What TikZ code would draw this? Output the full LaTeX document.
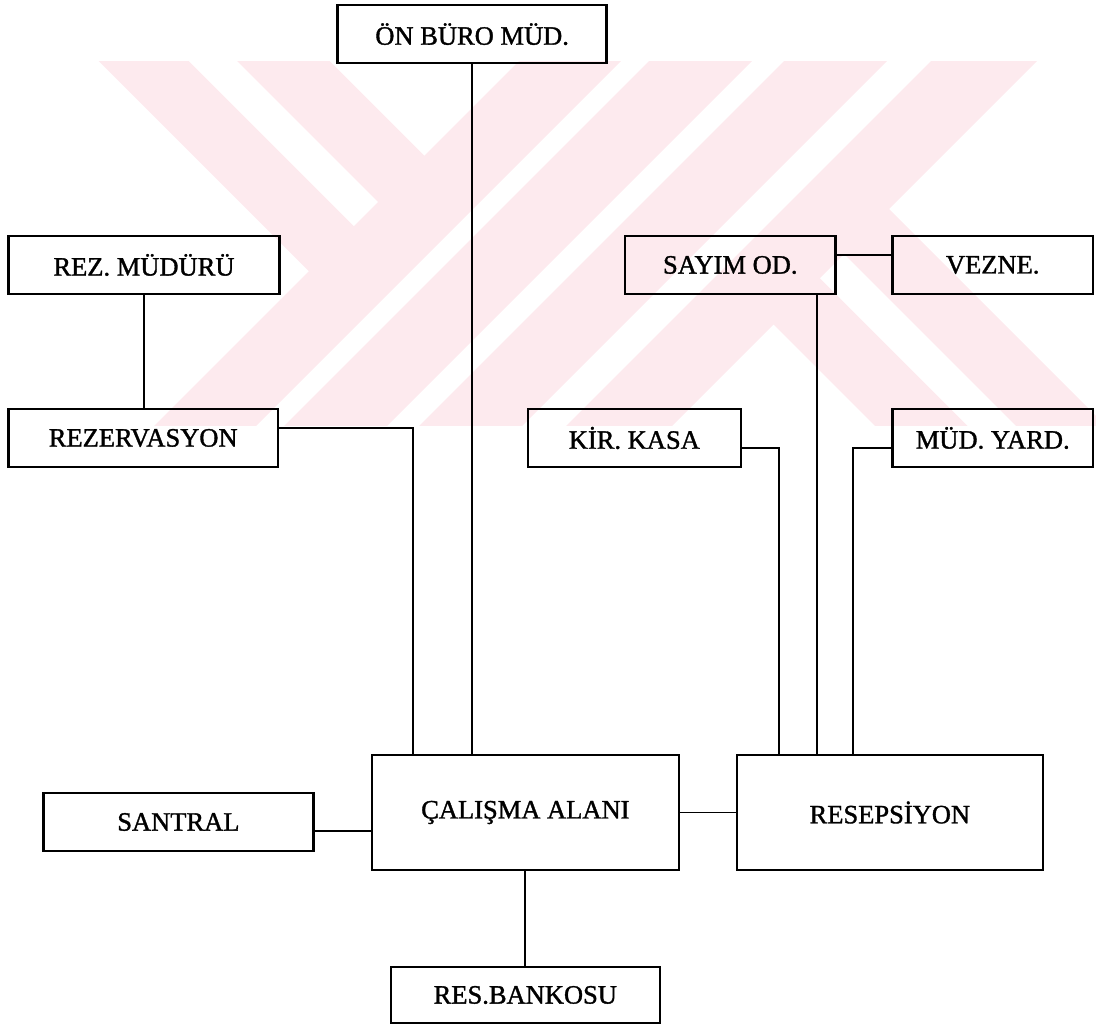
\documentclass[tikz,border=0pt]{standalone}
\usepackage{fontspec}
\newfontfamily\boxfont{Liberation Serif}[FakeBold=1.3]
\definecolor{wmpink}{RGB}{253,234,238}
\tikzset{
  orgbox/.style={draw=black, line width=2.4pt, inner sep=0pt, align=center,
    font=\boxfont\fontsize{26.5}{30}\selectfont},
  link/.style={draw=black, line width=1.9pt}
}
\begin{document}
\begin{tikzpicture}[x=1pt,y=-1pt]
\useasboundingbox (0,0) rectangle (1096,1025);
% watermark
\begin{scope}
  \clip (0,62) rectangle (1096,425);
  \fill[wmpink] (580,0) -- (682,0) -- (182,500) -- (80,500) -- cycle;
  \fill[wmpink] (710,0) -- (813,0) -- (313,500) -- (210,500) -- cycle;
  \fill[wmpink] (845,0) -- (948,0) -- (448,500) -- (345,500) -- cycle;
  \fill[wmpink] (992,0) -- (1098,0) -- (598,500) -- (492,500) -- cycle;
  \fill[wmpink] (37.6,0) -- (127.5,0) -- (379.25,251.75) -- (334.3,296.7) -- cycle;
  \fill[wmpink] (176,0) -- (268.6,0) -- (449.8,181.2) -- (403.5,227.5) -- cycle;
  \fill[wmpink] (1020.8,479.2) -- (928.2,479.2) -- (747,298) -- (793.3,251.7) -- cycle;
  \fill[wmpink] (1159.2,479.2) -- (1069.3,479.2) -- (817.55,227.45) -- (862.5,182.5) -- cycle;
\end{scope}
% boxes
\node[orgbox, minimum width=269pt, minimum height=58pt] (onburo) at (472.15,34.15) {ÖN BÜRO MÜD.};
\node[orgbox, minimum width=271pt, minimum height=58pt] (rezm) at (144,265) {REZ. MÜDÜRÜ};
\node[orgbox, minimum width=210.6pt, minimum height=58pt] (sayim) at (730.3,265) {SAYIM OD.};
\node[orgbox, minimum width=200.6pt, minimum height=58pt] (vezne) at (992.7,265) {VEZNE.};
\node[orgbox, minimum width=269.6pt, minimum height=58pt] (rezv) at (143.2,438) {REZERVASYON};
\node[orgbox, minimum width=213.3pt, minimum height=58pt] (kasa) at (634.35,438) {KİR. KASA};
\node[orgbox, minimum width=200.5pt, minimum height=58pt] (mudy) at (992.75,438) {MÜD. YARD.};
\node[orgbox, minimum width=270.2pt, minimum height=58pt] (santral) at (178.4,822) {SANTRAL};
\node[orgbox, minimum width=307.3pt, minimum height=115pt] (calisma) at (525.35,812.5) {ÇALIŞMA ALANI};
\node[orgbox, minimum width=306.3pt, minimum height=115pt] (resep) at (889.85,812.5) {RESEPSİYON};
\node[orgbox, minimum width=269.3pt, minimum height=56pt] (banko) at (525.35,995) {RES.BANKOSU};
% connector points
\coordinate (rv) at ([yshift=9.7pt]rezv.east);
\coordinate (cw) at ([xshift=-112pt]calisma.north);
\coordinate (sv1) at ([yshift=10pt]sayim.east);
\coordinate (sv2) at ([yshift=10pt]vezne.west);
\coordinate (sd) at ([xshift=-20pt]sayim.south east);
\coordinate (ke) at ([yshift=-10pt]kasa.east);
\coordinate (kr) at ([xshift=-111pt]resep.north);
\coordinate (mw) at ([yshift=-10pt]mudy.west);
\coordinate (mr) at ([xshift=-36.5pt]resep.north);
\coordinate (se) at ([yshift=-9pt]santral.east);
% connectors
\draw[link] (rezm.south) -- (rezm.south |- rezv.north);
\draw[link] (rv) -| (cw);
\draw[link] (onburo.south) -- (onburo.south |- calisma.north);
\draw[link] (sv1) -- (sv2);
\draw[link] (sd) -- (sd |- resep.north);
\draw[link] (ke) -| (kr);
\draw[link] (mw) -| (mr);
\draw[link] (se) -- (se -| calisma.west);
\draw[link] (calisma.east) -- (resep.west);
\draw[link] (calisma.south) -- (banko.north);
\end{tikzpicture}
\end{document}
